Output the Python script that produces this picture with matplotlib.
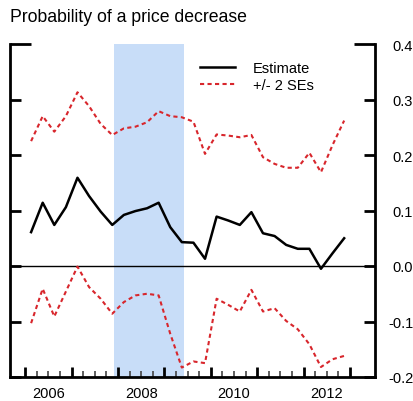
import numpy as np
import matplotlib
matplotlib.use("Agg")
import matplotlib.pyplot as plt
import matplotlib.transforms as mtransforms

plt.rcParams['font.family'] = ['Liberation Sans', 'DejaVu Sans']

# quarterly data 2006Q1 .. 2012Q4 (plotted at mid-quarter)
quarters = np.arange(2006, 2013, 0.25) + 0.125
estimate = [0.061, 0.114, 0.074, 0.106, 0.159, 0.126, 0.098, 0.074,
            0.092, 0.099, 0.104, 0.114, 0.070, 0.043, 0.042, 0.013,
            0.089, 0.082, 0.074, 0.097, 0.059, 0.054, 0.038, 0.031,
            0.031, -0.005, 0.023, 0.050]
upper = [0.225, 0.270, 0.242, 0.270, 0.313, 0.288, 0.256, 0.236,
         0.248, 0.251, 0.259, 0.279, 0.270, 0.268, 0.260, 0.202,
         0.237, 0.235, 0.232, 0.236, 0.196, 0.184, 0.177, 0.177,
         0.204, 0.169, 0.218, 0.262]
lower = [-0.103, -0.041, -0.091, -0.046, -0.001, -0.038, -0.059, -0.086,
         -0.065, -0.053, -0.050, -0.053, -0.122, -0.183, -0.172, -0.175,
         -0.059, -0.070, -0.082, -0.043, -0.082, -0.076, -0.099, -0.114,
         -0.141, -0.182, -0.168, -0.162]
recession = (2007.92, 2009.42)
year_labels = [2006, 2008, 2010, 2012]
y_ticks = [-0.2, -0.1, 0.0, 0.1, 0.2, 0.3, 0.4]

red = '#d8262c'
fig = plt.figure(figsize=(4.14, 4.02), dpi=100)
ax = fig.add_axes([10/414, 1 - 378/402, (375 - 10)/414, (378 - 45)/402])

ax.axvspan(*recession, color='#c8ddf8', lw=0, zorder=0)
ax.axhline(0, color='black', lw=1.0, zorder=1)
ax.plot(quarters, estimate, color='black', lw=1.8, label='Estimate', zorder=3)
ax.plot(quarters, upper, color=red, lw=1.5, ls=(0, (2, 1.6)), label='+/- 2 SEs', zorder=2)
ax.plot(quarters, lower, color=red, lw=1.5, ls=(0, (2, 1.6)), zorder=2)

ax.set_xlim(2005.67, 2013.54)
ax.set_ylim(-0.2, 0.4)

for s in ['left', 'right', 'bottom']:
    ax.spines[s].set_linewidth(2)
ax.spines['top'].set_visible(False)

ax.set_yticks(y_ticks)
ax.set_yticklabels([f'{v:.1f}' for v in y_ticks])
ax.tick_params(axis='y', which='major', direction='in', left=True, right=True,
               labelleft=False, labelright=True, length=8, width=2, pad=27.5,
               labelsize=10.5)
for lab in ax.get_yticklabels():
    lab.set_horizontalalignment('right')
# longer top ticks
for t in ax.yaxis.get_major_ticks():
    if abs(t.get_loc() - 0.4) < 1e-9:
        t.tick1line.set_markersize(15)
        t.tick2line.set_markersize(15)

ax.set_xticks(np.arange(2006, 2014, 1))
ax.set_xticklabels([])
ax.set_xticks(np.arange(2006, 2013.01, 0.25), minor=True)
ax.tick_params(axis='x', which='major', direction='in', length=7.5, width=2)
ax.tick_params(axis='x', which='minor', direction='in', length=4.5, width=1.2, color='#444444')

trans = mtransforms.blended_transform_factory(ax.transData, ax.transAxes)
for yr in year_labels:
    ax.text(yr + 0.5, -16/333, str(yr), transform=trans, ha='center', va='center',
            fontsize=10.5)

ax.legend(loc='upper left', bbox_to_anchor=(0.505, 0.967), frameon=False,
          fontsize=10.5, handlelength=2.4, handletextpad=1.2, labelspacing=0.2,
          borderaxespad=0)

fig.text(10/414, 1 - 18/402, 'Probability of a price decrease', ha='left', va='center',
         fontsize=12.7)

fig.savefig('out.png', dpi=100)
